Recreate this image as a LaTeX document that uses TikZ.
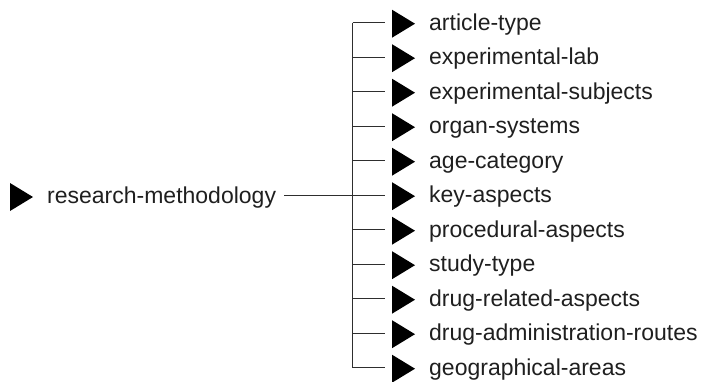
\documentclass[tikz,border=0pt]{standalone}
\usepackage{fontspec}
\setmainfont{Liberation Sans}
\begin{document}
\begin{tikzpicture}[x=1pt,y=-1pt,
  lbl/.style={anchor=base west,inner sep=0pt,font=\fontsize{23}{23}\selectfont,text=black!88},
  wire/.style={draw=black!82,line width=1.4pt},
  tri/.style={fill=black}]
\useasboundingbox (0,0) rectangle (714,381);
% root
\coordinate (rt) at (10,196);
\fill[tri] (rt) ++(0,-13) -- ++(23,14) -- ++(-23,14) -- cycle;
\node[lbl] (rm) at (47,203) {research-methodology};
% children
\foreach \t [count=\i from 0] in {article-type,experimental-lab,experimental-subjects,organ-systems,age-category,key-aspects,procedural-aspects,study-type,drug-related-aspects,drug-administration-routes,geographical-areas}{
  \pgfmathsetmacro{\yy}{22.7+34.5*\i}
  \coordinate (b\i) at (352.5,\yy);
  \coordinate (t\i) at (392,\yy);
  \fill[tri] (t\i) ++(0,-13) -- ++(23,14) -- ++(-23,14) -- cycle;
  \node[lbl] (l\i) at (429,\yy+7.5) {\t};
  \draw[wire] (b\i) -- ([xshift=-7pt]t\i);
}
\draw[wire] (b0) -- (b10);
\draw[wire] ([xshift=8pt]rm.east |- b5) -- ([xshift=-7pt]t5);
\end{tikzpicture}
\end{document}
